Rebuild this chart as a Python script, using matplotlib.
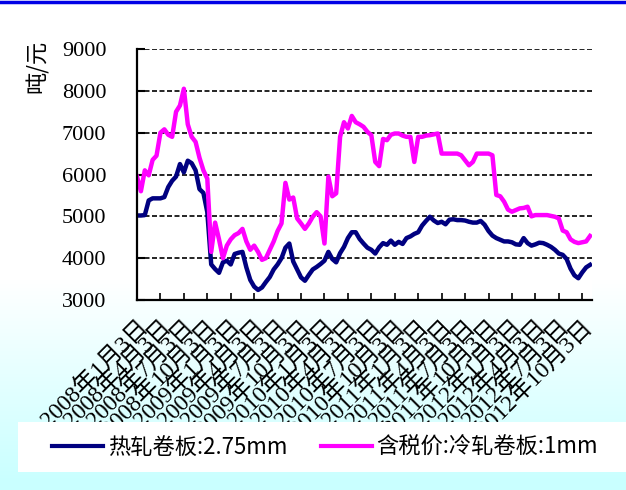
import matplotlib.pyplot as plt
import numpy as np
from matplotlib.lines import Line2D
from matplotlib.patches import Rectangle

# 价格数据（元/吨），半月一个点，2008年1月起
hot_rolled = [5020, 5020, 5030, 5380, 5430, 5430, 5430, 5460, 5700, 5850,
              5950, 6250, 6050, 6330, 6270, 6100, 5650, 5560, 5100, 3850,
              3740, 3650, 3900, 3940, 3850, 4100, 4130, 4150, 3780, 3480,
              3320, 3240, 3300, 3430, 3550, 3730, 3850, 4000, 4250, 4350,
              3920, 3730, 3540, 3460, 3600, 3730, 3790, 3860, 3940, 4150,
              3980, 3900, 4120, 4270, 4480, 4620, 4620, 4460, 4350, 4250,
              4200, 4110, 4260, 4360, 4320, 4420, 4320, 4390, 4340, 4480,
              4520, 4580, 4620, 4780, 4890, 4990, 4900, 4840, 4870, 4810,
              4920, 4930, 4910, 4910, 4900, 4870, 4850, 4850, 4890, 4800,
              4650, 4540, 4480, 4440, 4400, 4400, 4380, 4330, 4320, 4480,
              4360, 4300, 4330, 4370, 4360, 4320, 4270, 4200, 4110, 4080,
              3980, 3750, 3590, 3520, 3660, 3780, 3840]

cold_rolled = [5950, 5600, 6100, 5980, 6350, 6450, 7000, 7080, 6950, 6900,
               7500, 7650, 8050, 7200, 6900, 6780, 6400, 6100, 5900, 4150,
               4850, 4450, 4000, 4300, 4450, 4550, 4600, 4700, 4400, 4200,
               4300, 4150, 3960, 4000, 4200, 4400, 4650, 4830, 5800, 5400,
               5450, 4950, 4830, 4700, 4830, 4990, 5100, 5000, 4350, 5950,
               5480, 5550, 6900, 7250, 7100, 7400, 7250, 7200, 7140, 7020,
               6940, 6300, 6200, 6850, 6820, 6950, 6980, 6980, 6930, 6900,
               6900, 6300, 6900, 6900, 6930, 6940, 6960, 6980, 6500, 6500,
               6500, 6500, 6500, 6460, 6340, 6220, 6300, 6500, 6500, 6500,
               6500, 6460, 5510, 5480, 5350, 5160, 5110, 5150, 5190, 5200,
               5230, 5000, 5030, 5030, 5030, 5030, 5010, 4990, 4950, 4660,
               4620, 4450, 4390, 4360, 4380, 4400, 4530]

tick_labels = [f"{y}年{m}月3日" for y in range(2008, 2013) for m in (1, 4, 7, 10)]
legend_labels = ["热轧卷板:2.75mm", "含税价:冷轧卷板:1mm"]

cjk = ['Noto Sans CJK SC', 'DejaVu Sans']
serif_cjk = ['Liberation Serif', 'Noto Sans CJK SC']

fig = plt.figure(figsize=(6.26, 4.9), dpi=100)
fig.patch.set_facecolor('white')

# 背景渐变（白 -> 浅青）
bg = fig.add_axes([0, 0, 1, 1], zorder=-1)
grad = np.ones((490, 1, 3))
t = np.clip((np.arange(490) - 280) / 200.0, 0, 1)
grad[:, 0, 0] = 1 - t * (1 - 0.79)
bg.imshow(grad, aspect='auto', extent=[0, 1, 0, 1], origin='upper')
bg.axis('off')

# 顶部蓝线
fig.add_artist(Line2D([0, 1], [0.996, 0.996], color='#0000E6', lw=2.5,
                      transform=fig.transFigure))

ax = fig.add_axes([137 / 626, 1 - 300 / 490, 455 / 626, 251 / 490])
ax.set_facecolor('white')

x = np.arange(len(hot_rolled))
ax.plot(x, hot_rolled, color='#000080', lw=3.2, solid_joinstyle='round')
ax.plot(x, cold_rolled, color='#FF00FF', lw=3.2, solid_joinstyle='round')

ax.set_xlim(0, 116.5)
ax.set_ylim(3000, 9000)
ax.set_yticks(range(3000, 9001, 1000))
for v in range(4000, 9001, 1000):
    ax.axhline(v, color='black', lw=1.2, ls=(0, (3, 1.5)), zorder=0)

for s in ['top', 'right']:
    ax.spines[s].set_visible(False)
for s in ['left', 'bottom']:
    ax.spines[s].set_linewidth(1.6)

ax.tick_params(axis='y', direction='in', length=6, width=1.5, pad=22)
ax.tick_params(axis='x', direction='in', length=5, width=1.2, pad=12)
for lab in ax.get_yticklabels():
    lab.set_fontfamily('Liberation Serif')
    lab.set_fontsize(16)

ax.set_xticks(np.arange(0, len(tick_labels) * 6, 6))
ax.set_xticklabels(tick_labels, rotation=45, ha='right', va='top',
                   rotation_mode='anchor', fontsize=17, family=serif_cjk)

ax.text(-0.218, 0.93, "吨/元", transform=ax.transAxes, rotation=90,
        ha='center', va='center', fontsize=16, family=cjk)

# 图例白底
fig.add_artist(Rectangle((18 / 626, 18 / 490), 608 / 626, 50 / 490,
                         transform=fig.transFigure, facecolor='white',
                         edgecolor='none', zorder=4))
handles = [Line2D([], [], color='#000080', lw=3),
           Line2D([], [], color='#FF00FF', lw=3)]
leg = fig.legend(handles, legend_labels, loc='center',
                 bbox_to_anchor=(325 / 626, 43 / 490), ncol=2, frameon=False,
                 prop={'family': cjk, 'size': 16}, handlelength=2.3,
                 handletextpad=0.2, columnspacing=1.5)
leg.set_zorder(5)

plt.savefig('out.png', dpi=100)
